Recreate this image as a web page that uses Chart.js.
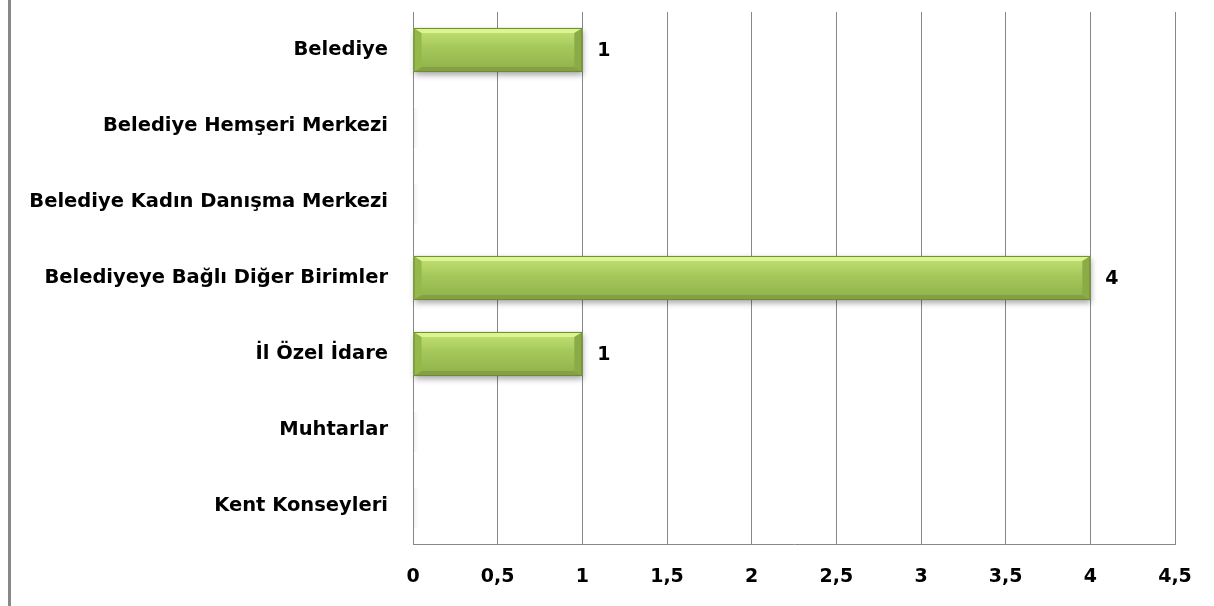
<!DOCTYPE html>
<html>
<head>
<meta charset="utf-8">
<script src="https://cdn.jsdelivr.net/npm/chart.js@4"></script>
<style>
  html, body { margin: 0; padding: 0; background: #fff; }
  #wrap { width: 1214px; height: 606px; position: relative; }
</style>
</head>
<body>
<div id="wrap"><canvas id="myChart" width="1214" height="606"></canvas></div>
<script>
// veriler
const categories = [
    'Belediye',
    'Belediye Hemşeri Merkezi',
    'Belediye Kadın Danışma Merkezi',
    'Belediyeye Bağlı Diğer Birimler',
    'İl Özel İdare',
    'Muhtarlar',
    'Kent Konseyleri'
];
const counts = [1, 0, 0, 4, 1, 0, 0];
const xTicks = [0, 0.5, 1, 1.5, 2, 2.5, 3, 3.5, 4, 4.5];

const FONT = '"DejaVu Sans", sans-serif';

// sol kenardaki gri cizgi
const frameLine = {
    id: 'frameLine',
    beforeDraw(chart) {
        const c = chart.ctx;
        c.save();
        c.fillStyle = '#888888';
        c.fillRect(8, 0, 3, chart.height);
        c.restore();
    }
};

// cubuklara kabartma efekti
const bevelBars = {
    id: 'bevelBars',
    afterDatasetsDraw(chart) {
        const c = chart.ctx;
        const meta = chart.getDatasetMeta(0);
        meta.data.forEach((bar, i) => {
            const p = bar.getProps(['x', 'y', 'base', 'height'], true);
            const x0 = p.base, x1 = p.x;
            const y0 = p.y - p.height / 2, y1 = p.y + p.height / 2;
            const w = x1 - x0, h = y1 - y0;
            c.save();
            if (w < 1) {
                // bos degerler icin hafif golge
                const g0 = c.createLinearGradient(x0, 0, x0 + 6, 0);
                g0.addColorStop(0, 'rgba(0,0,0,0.06)');
                g0.addColorStop(1, 'rgba(0,0,0,0)');
                c.fillStyle = g0;
                c.fillRect(x0 + 1, y0 + 4, 6, h - 4);
                c.restore();
                return;
            }
            // golge
            c.shadowColor = 'rgba(0,0,0,0.35)';
            c.shadowBlur = 6;
            c.shadowOffsetY = 3;
            c.shadowOffsetX = 1;
            const g = c.createLinearGradient(0, y0, 0, y1);
            g.addColorStop(0, '#c4e376');
            g.addColorStop(0.45, '#a5c75a');
            g.addColorStop(1, '#8fb049');
            c.fillStyle = g;
            c.fillRect(x0, y0, w, h);
            c.shadowColor = 'transparent';
            const b = 8;
            // ust parlak serit
            c.fillStyle = '#dcf590';
            c.beginPath();
            c.moveTo(x0, y0); c.lineTo(x1, y0); c.lineTo(x1 - b, y0 + 5); c.lineTo(x0 + b, y0 + 5);
            c.closePath(); c.fill();
            // alt koyu serit
            c.fillStyle = '#83a142';
            c.beginPath();
            c.moveTo(x0, y1); c.lineTo(x1, y1); c.lineTo(x1 - b, y1 - 5); c.lineTo(x0 + b, y1 - 5);
            c.closePath(); c.fill();
            // sol kenar
            c.fillStyle = '#94b84a';
            c.beginPath();
            c.moveTo(x0, y0); c.lineTo(x0 + b, y0 + 5); c.lineTo(x0 + b, y1 - 5); c.lineTo(x0, y1);
            c.closePath(); c.fill();
            // sag kenar
            c.fillStyle = '#8aab45';
            c.beginPath();
            c.moveTo(x1, y0); c.lineTo(x1 - b, y0 + 5); c.lineTo(x1 - b, y1 - 5); c.lineTo(x1, y1);
            c.closePath(); c.fill();
            c.strokeStyle = '#6f8c35';
            c.lineWidth = 1;
            c.strokeRect(x0 + 0.5, y0 + 0.5, w - 1, h - 1);
            c.restore();
        });
    }
};

// deger etiketleri
const valueLabels = {
    id: 'valueLabels',
    afterDatasetsDraw(chart) {
        const c = chart.ctx;
        const meta = chart.getDatasetMeta(0);
        c.save();
        c.font = 'bold 19px ' + FONT;
        c.fillStyle = '#000';
        c.textAlign = 'left';
        c.textBaseline = 'middle';
        meta.data.forEach((bar, i) => {
            if (!counts[i]) return;
            c.fillText(String(counts[i]), bar.x + 15, bar.y + 1);
        });
        c.restore();
    }
};

const ctx = document.getElementById('myChart').getContext('2d');
const myChart = new Chart(ctx, {
    type: 'bar',
    data: {
        labels: categories,
        datasets: [{
            data: counts,
            backgroundColor: 'rgba(0,0,0,0)',
            borderWidth: 0,
            categoryPercentage: 1,
            barPercentage: 0.58
        }]
    },
    plugins: [frameLine, bevelBars, valueLabels],
    options: {
        indexAxis: 'y',
        responsive: false,
        animation: false,
        layout: { padding: { top: 12, right: 39, left: 0, bottom: 0 } },
        plugins: {
            legend: { display: false },
            tooltip: { enabled: false }
        },
        scales: {
            x: {
                min: 0,
                max: 4.5,
                afterBuildTicks(scale) {
                    scale.ticks = xTicks.map(v => ({ value: v }));
                },
                afterFit(scale) {
                    scale.height = 62;
                    scale.paddingLeft = 0;
                    scale.paddingRight = 0;
                },
                grid: { color: '#888888', lineWidth: 1, drawTicks: false },
                border: { color: '#888888', width: 1 },
                ticks: {
                    padding: 22,
                    color: '#000',
                    font: { family: FONT, size: 19, weight: 'bold' },
                    callback: v => String(v).replace('.', ',')
                }
            },
            y: {
                afterFit(scale) {
                    scale.width = 413;
                    scale.paddingTop = 0;
                    scale.paddingBottom = 0;
                },
                grid: { display: false, drawTicks: false },
                border: { color: '#888888', width: 1 },
                ticks: {
                    padding: 25,
                    color: '#000',
                    font: { family: FONT, size: 19.5, weight: 'bold' }
                }
            }
        }
    }
});
</script>
</body>
</html>
